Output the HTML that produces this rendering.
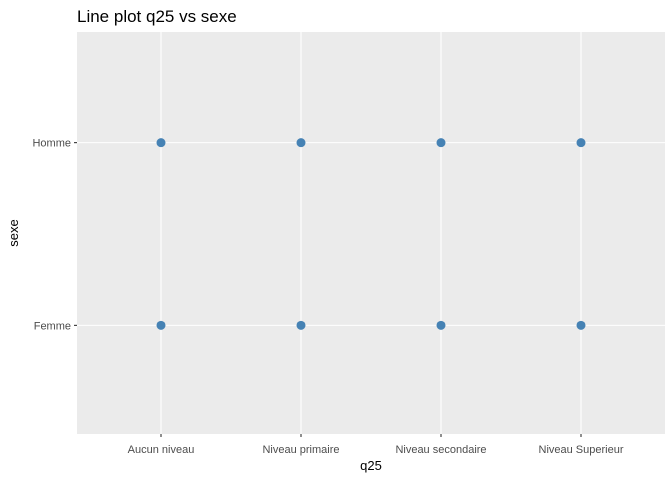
<!DOCTYPE html>
<html><head><meta charset="utf-8"><style>
body{margin:0;background:#fff;}
svg{display:block;font-family:"Liberation Sans",Arial,sans-serif;}
</style></head><body>
<svg id="chart" width="672" height="480">
<rect width="672" height="480" fill="#fff"/>
<text x="77" y="22" font-size="17" fill="#000">Line plot q25 vs sexe</text>
<rect x="77" y="32" width="588" height="402" fill="#ebebeb"/>
<g id="grid"></g><g id="axes"></g><g id="points"></g>
<text x="371" y="470" font-size="13" text-anchor="middle" fill="#000">q25</text>
<text transform="translate(18,233) rotate(-90)" font-size="13" text-anchor="middle" fill="#000">sexe</text>
</svg>
<script>
const categories = ["Aucun niveau","Niveau primaire","Niveau secondaire","Niveau Superieur"];
const levels = ["Femme","Homme"];
const pointX = ["Aucun niveau","Niveau primaire","Niveau secondaire","Niveau Superieur","Aucun niveau","Niveau primaire","Niveau secondaire","Niveau Superieur"];
const pointY = ["Homme","Homme","Homme","Homme","Femme","Femme","Femme","Femme"];
const NS="http://www.w3.org/2000/svg";
const L=77,R=665,T=32,B=434;
function xs(c){const i=categories.indexOf(c);const step=(R-L)/(categories.length+0.2);return L+step*0.6+i*step;}
function ys(v){const i=levels.indexOf(v);const step=(B-T)/(levels.length+0.2);return B+1-step*0.6-i*step;}
function mk(tag,attrs,parent){const e=document.createElementNS(NS,tag);for(const k in attrs)e.setAttribute(k,attrs[k]);parent.appendChild(e);return e;}
const grid=document.getElementById('grid'),axes=document.getElementById('axes'),pts=document.getElementById('points');
categories.forEach(c=>{const x=xs(c);
 const g=mk('line',{x1:x,x2:x,y1:T,y2:B,stroke:'#fff','stroke-width':1.1},grid);
 
 
 const t=mk('line',{x1:x,x2:x,y1:B,y2:B+3,stroke:'#333','stroke-width':1.1},axes);
 
 
 const l=mk('text',{x:x,y:B+19,'font-size':11,'text-anchor':'middle',fill:'#4d4d4d'},axes);l.textContent=c;
 
 
});
levels.forEach(v=>{const y=ys(v);
 const g=mk('line',{x1:L,x2:R,y1:y,y2:y,stroke:'#fff','stroke-width':1.1},grid);
 
 
 const t=mk('line',{x1:L-3,x2:L,y1:y,y2:y,stroke:'#333','stroke-width':1.1},axes);
 
 
 const l=mk('text',{x:L-6,y:y+4,'font-size':11,'text-anchor':'end',fill:'#4d4d4d'},axes);l.textContent=v;
 
 
});
pointX.forEach((c,i)=>{
 const p=mk('circle',{cx:xs(c),cy:ys(pointY[i]),r:4.5,fill:'#4682b4'},pts);
 
 
});
</script>
</body></html>
